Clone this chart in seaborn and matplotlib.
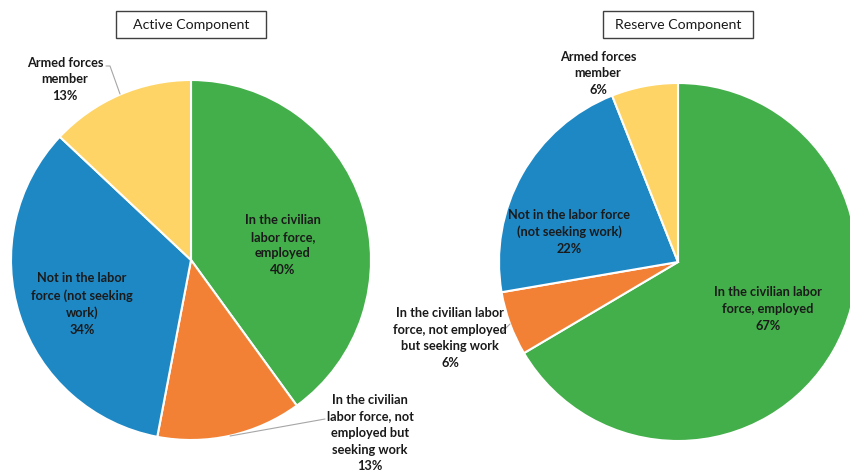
import matplotlib
matplotlib.use("Agg")
import matplotlib.pyplot as plt
from matplotlib.patches import Rectangle
import seaborn as sns

# ---- data ----
categories = ["In the civilian labor force, employed",
              "In the civilian labor force, not employed but seeking work",
              "Not in the labor force (not seeking work)",
              "Armed forces member"]
active_values = [40, 13, 34, 13]
reserve_values = [66.5, 5.8, 21.7, 6.0]
active_pct = ["40%", "13%", "34%", "13%"]
reserve_pct = ["67%", "6%", "22%", "6%"]
active_labels = ["In the civilian\nlabor force,\nemployed",
                 "In the civilian\nlabor force, not\nemployed but\nseeking work",
                 "Not in the labor\nforce (not seeking\nwork)",
                 "Armed forces\nmember"]
reserve_labels = ["In the civilian labor\nforce, employed",
                  "In the civilian labor\nforce, not employed\nbut seeking work",
                  "Not in the labor force\n(not seeking work)",
                  "Armed forces\nmember"]
titles = ["Active Component", "Reserve Component"]

sns.set_theme(style="white")
plt.rcParams['font.family'] = ['Lato', 'DejaVu Sans']
colors = sns.color_palette(["#43AF4A", "#F28135", "#1E88C5", "#FDD465"])

W, H = 850, 474
fig = plt.figure(figsize=(W / 100, H / 100), dpi=100)
ax = fig.add_axes([0, 0, 1, 1])
ax.set_xlim(0, W)
ax.set_ylim(0, H)
ax.axis("off")

def Y(y):
    return H - y

pies = [
    dict(values=active_values, labels=active_labels, pct=active_pct,
         center=(191, Y(260)), r=180,
         pos=[(283, 245), (370, 433), (82, 304), (65, 79)]),
    dict(values=reserve_values, labels=reserve_labels, pct=reserve_pct,
         center=(678, Y(262)), r=179,
         pos=[(768, 309), (450, 338), (569, 232), (598, 73)]),
]

for p in pies:
    ax.pie(p["values"], colors=colors, startangle=90, counterclock=False,
           center=p["center"], radius=p["r"],
           wedgeprops=dict(edgecolor="white", linewidth=1.5))
    for lab, pct, (x, y) in zip(p["labels"], p["pct"], p["pos"]):
        ax.text(x, Y(y), lab + "\n" + pct, ha="center", va="center",
                fontsize=9.2, fontweight="bold", color="#1a1a1a",
                linespacing=1.45)

ax.set_xlim(0, W)
ax.set_ylim(0, H)

# leader lines
lc = "#A6A6A6"
ax.plot([106, 110, 120], [Y(66), Y(66), Y(94)], color=lc, lw=0.8)
ax.plot([325, 230], [Y(419), Y(436)], color=lc, lw=0.8)
ax.plot([502, 510], [Y(332), Y(324)], color=lc, lw=0.8)

# title boxes
for title, cx in zip(titles, [191, 678]):
    ax.add_patch(Rectangle((cx - 75, Y(38)), 150, 27, facecolor="white",
                           edgecolor="#404040", lw=1))
    ax.text(cx, Y(25), title, ha="center", va="center", fontsize=10.2,
            color="#1a1a1a")

fig.savefig("out.png", dpi=100)
